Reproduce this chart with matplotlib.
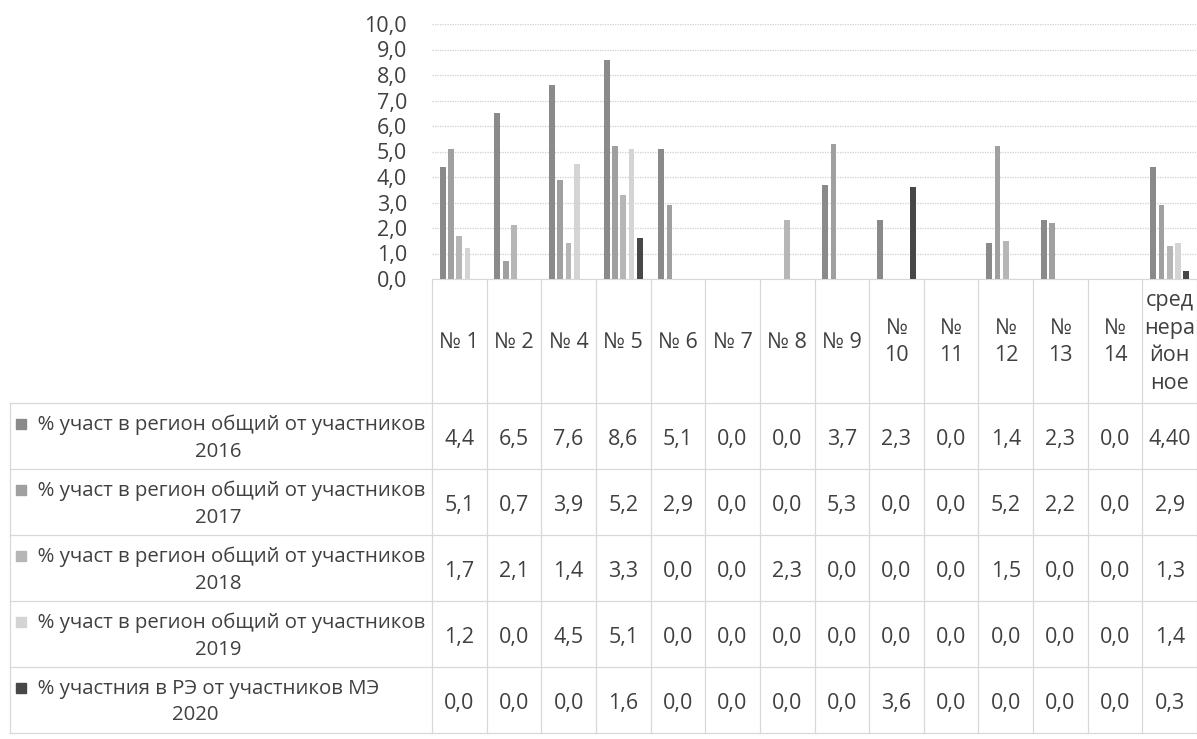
import numpy as np
import matplotlib
matplotlib.use("Agg")
import matplotlib.pyplot as plt
from matplotlib.patches import Rectangle

plt.rcParams['font.family'] = ['Open Sans', 'DejaVu Sans']

# schools / columns of the data table
categories = ["№ 1", "№ 2", "№ 4", "№ 5", "№ 6", "№ 7", "№ 8", "№ 9",
              "№ 10", "№ 11", "№ 12", "№ 13", "№ 14", "среднерайонное"]
header_labels = ["№ 1", "№ 2", "№ 4", "№ 5", "№ 6", "№ 7", "№ 8", "№ 9",
                 "№\n10", "№\n11", "№\n12", "№\n13", "№\n14",
                 "сред\nнера\nйон\nное"]

s2016 = [4.4, 6.5, 7.6, 8.6, 5.1, 0.0, 0.0, 3.7, 2.3, 0.0, 1.4, 2.3, 0.0, 4.4]
s2017 = [5.1, 0.7, 3.9, 5.2, 2.9, 0.0, 0.0, 5.3, 0.0, 0.0, 5.2, 2.2, 0.0, 2.9]
s2018 = [1.7, 2.1, 1.4, 3.3, 0.0, 0.0, 2.3, 0.0, 0.0, 0.0, 1.5, 0.0, 0.0, 1.3]
s2019 = [1.2, 0.0, 4.5, 5.1, 0.0, 0.0, 0.0, 0.0, 0.0, 0.0, 0.0, 0.0, 0.0, 1.4]
s2020 = [0.0, 0.0, 0.0, 1.6, 0.0, 0.0, 0.0, 0.0, 3.6, 0.0, 0.0, 0.0, 0.0, 0.3]

series = [s2016, s2017, s2018, s2019, s2020]
series_names = [("% участ в регион общий от участников", "2016"),
                ("% участ в регион общий от участников", "2017"),
                ("% участ в регион общий от участников", "2018"),
                ("% участ в регион общий от участников", "2019"),
                ("% участния в РЭ от участников МЭ", "2020")]
# the table prints the 2016 district average with two decimals
cell_overrides = {(0, 13): "4,40"}

colors = ["#8a8a8a", "#a0a0a0", "#b6b6b6", "#d4d4d4", "#474747"]
text_c = "#404040"
line_c = "#d8d8d8"
fs = 15.5
fs_lab = 14.7

W, H = 1197, 739
fig = plt.figure(figsize=(W / 100, H / 100), dpi=100)

# ---- bar chart part (pixel layout of the reference)
ax_l, ax_r, ax_t, ax_b = 432, 1197, 24, 279
ax = fig.add_axes([ax_l / W, 1 - ax_b / H, (ax_r - ax_l) / W, (ax_b - ax_t) / H])
n = len(categories)
x = np.arange(n) + 0.5
pitch, bw = 0.152, 0.105
for k, vals in enumerate(series):
    ax.bar(x + (k - 2) * pitch, vals, width=bw, color=colors[k], zorder=3)

ax.set_xlim(0, n)
ax.set_ylim(0, 10)
ax.set_yticks(range(0, 11))
ax.set_yticklabels([f"{v:.1f}".replace(".", ",") for v in range(0, 11)],
                   fontsize=fs, color=text_c)
ax.tick_params(axis="y", length=0, pad=18)
ax.set_xticks([])
ax.grid(axis="y", color="#cfcfcf", linestyle=(0, (1, 1)), linewidth=0.9, zorder=0)
for s in ["top", "right", "left"]:
    ax.spines[s].set_visible(False)
ax.spines["bottom"].set_color(line_c)

# ---- data table underneath, drawn in pixel coordinates
tab = fig.add_axes([0, 0, 1, 1])
tab.set_xlim(0, W)
tab.set_ylim(H, 0)
tab.axis("off")
tab.patch.set_alpha(0)

col_w = (ax_r - ax_l) / n
head_top, head_bot = ax_b, 403
row_h = 66
lab_l = 10
rows_bottom = head_bot + row_h * len(series)

for j in range(n + 1):
    xv = ax_l + j * col_w
    tab.plot([xv, xv], [head_top, rows_bottom], color=line_c, lw=0.9)
tab.plot([lab_l, lab_l], [head_bot, rows_bottom], color=line_c, lw=0.9)
for i in range(len(series) + 1):
    yv = head_bot + i * row_h
    tab.plot([lab_l, ax_r], [yv, yv], color=line_c, lw=0.9)

for j, lab in enumerate(header_labels):
    tab.text(ax_l + (j + 0.5) * col_w, 342, lab, ha="center", va="center",
             fontsize=fs, color=text_c, linespacing=1.4)

for i, vals in enumerate(series):
    yc = head_bot + (i + 0.5) * row_h
    for j, v in enumerate(vals):
        txt = cell_overrides.get((i, j), f"{v:.1f}".replace(".", ","))
        tab.text(ax_l + (j + 0.5) * col_w, yc + 3, txt, ha="center", va="center",
                 fontsize=fs, color=text_c)
    first, second = series_names[i]
    tab.text(12, yc + 2, "\u2003 " + first + "\n" + second, ha="left", va="center",
             multialignment="center", fontsize=fs_lab, color=text_c, linespacing=1.45)
    tab.add_patch(Rectangle((16, yc - 17), 10, 10, color=colors[i]))

fig.savefig("out.png", dpi=100, facecolor="white")
